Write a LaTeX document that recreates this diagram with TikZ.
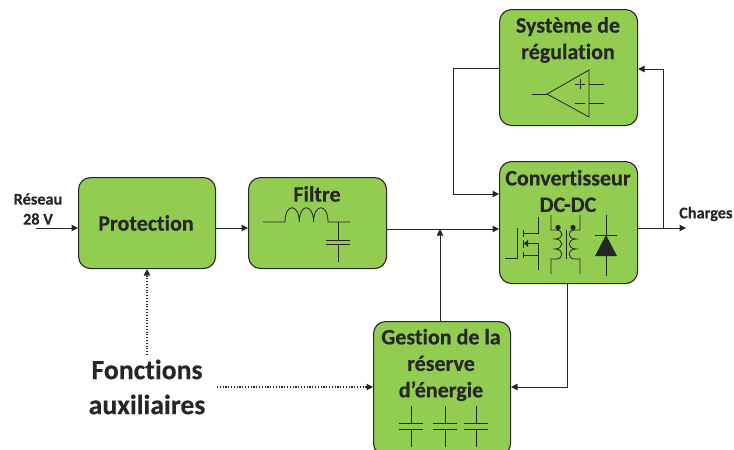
\documentclass[tikz,border=0pt]{standalone}
\usepackage{fontspec}
\setmainfont[Ligatures={NoCommon},BoldFeatures={FakeBold=0.3}]{Carlito}
\usetikzlibrary{arrows.meta}
\definecolor{boxgreen}{RGB}{146,204,80}
\definecolor{ink}{RGB}{38,38,38}
\tikzset{
  block/.style={draw=ink,line width=1.1pt,fill=boxgreen,rounded corners=12pt,inner sep=0pt,anchor=north west},
  lab/.style={font=\fontsize{22}{26.5}\selectfont\bfseries,text=ink,align=center,inner sep=0pt},
  smalllab/.style={font=\fontsize{16.3}{20}\selectfont\bfseries,text=ink,align=center,inner sep=0pt},
  biglab/.style={font=\fontsize{27.7}{35}\selectfont\bfseries,text=ink,align=center,inner sep=0pt},
  wire/.style={draw=ink,line width=1pt},
  flow/.style={wire,-{Triangle[length=6.5pt,width=6.5pt]}},
  aux/.style={flow,dash pattern=on 1.1pt off 1.7pt,line width=1.1pt},
  sym/.style={draw=ink,line width=0.8pt}
}
\begin{document}
\begin{tikzpicture}[x=1pt,y=-1pt]
\useasboundingbox (0,0) rectangle (734,450);
\begin{scope}
\clip (0,0) rectangle (734,450);
\node[block,minimum width=138pt,minimum height=116pt] (reg) at (499,9) {};
\node[block,minimum width=138pt,minimum height=122pt] (conv) at (499,161) {};
\node[block,minimum width=137pt,minimum height=91pt] (prot) at (78,177) {};
\node[block,minimum width=138pt,minimum height=91pt] (filt) at (248,177) {};
\node[block,minimum width=137pt,minimum height=134pt] (gest) at (373,321) {};
\end{scope}
% labels
\node[lab] at (568,40) {Système de\\régulation};
\node[lab] at (568,191) {Convertisseur\\DC-DC};
\node[lab] at (146,223) {Protection};
\node[lab] at (317,194) {Filtre};
\node[lab] at (441,365) {Gestion de la\\réserve\\d’énergie};
\node[smalllab] (res) at (38,209) {Réseau\\28 V};
\node[smalllab,anchor=west] (chg) at (679,214) {Charges};
\node[biglab] (aux) at (147,387) {Fonctions\\auxiliaires};
% connectors
\coordinate (in) at (36,228);
\coordinate (j1) at (440,229);
\coordinate (j2) at (663,228);
\coordinate (out) at (686,228);
\coordinate (k1) at (453,68);
\coordinate (k2) at (453,194);
\coordinate (k3) at (663,69);
\coordinate (k4) at (567,387);
\draw[flow] (in) -- (prot.west |- in);
\draw[flow] (prot.east |- in) -- (filt.west |- in);
\draw[flow] (filt.east |- j1) -- (conv.west |- j1);
\draw[flow] (gest.north -| j1) -- (j1);
\draw[flow] (conv.east |- j2) -- (out);
\draw[flow] (j2) -- (k3) -- (reg.east |- k3);
\draw[flow] (reg.west |- k1) -- (k1) -- (k2) -- (conv.west |- k2);
\draw[flow] (conv.south -| k4) -- (k4) -- (gest.east |- k4);
\draw[aux] (147,355) -- (prot.south -| 147,0);
\draw[aux] (217,387) -- (gest.west |- k4);
% op-amp
\draw[sym] (547,94) -- (589,70) -- (589,117) -- cycle;
\draw[sym] (532,94) -- (547,94);
\draw[sym] (589,84) -- (604,84) (589,103) -- (604,103);
\draw[sym] (575,84) -- (585,84) (580,79) -- (580,89) (575,103) -- (585,103);
% filter icon
\draw[sym] (263,222) -- (285,222)
  .. controls (285,203) and (299,203) .. (299.3,222)
  .. controls (299.3,203) and (313.3,203) .. (313.6,222)
  .. controls (313.6,203) and (328,203) .. (328,222)
  -- (350,222);
\draw[sym] (338,222) -- (338,240) (326,240) -- (350,240) (326,244) -- (350,244) (338,244) -- (338,262);
% capacitors
\foreach \cx in {411,445,476}{
  \draw[sym] (\cx,406) -- (\cx,423) (\cx-12,423) -- (\cx+12,423) (\cx-12,429) -- (\cx+12,429) (\cx,429) -- (\cx,447);
}
% MOSFET
\draw[sym] (505,258) -- (517,258) -- (517,228);
\draw[sym] (523,230) -- (523,237) (523,240) -- (523,248) (523,252) -- (523,258);
\draw[sym] (523,233) -- (538,233) -- (538,217);
\draw[sym] (523,243.5) -- (538,243.5) -- (538,270);
\draw[sym] (523,255) -- (538,255);
\fill[ink] (524,243.5) -- (528,240) -- (528,247) -- cycle;
% transformer
\draw[sym] (551,215) -- (551,230) -- (556,230)
  .. controls (564,230) and (564,239) .. (555,239)
  .. controls (564,239) and (564,249) .. (555,249)
  .. controls (564,249) and (564,259) .. (556,259)
  -- (551,259) -- (551,274);
\draw[sym] (580,215) -- (580,230) -- (575,230)
  .. controls (567,230) and (567,239) .. (576,239)
  .. controls (567,239) and (567,249) .. (576,249)
  .. controls (567,249) and (567,259) .. (575,259)
  -- (580,259) -- (580,274);
\draw[sym] (566,230) -- (566,259);
\fill[ink] (558,227.5) circle[radius=2.6] (573,227.5) circle[radius=2.6];
% diode
\draw[sym] (606,215) -- (606,276) (595,235) -- (617,235);
\fill[ink] (606,235) -- (595,256) -- (617,256) -- cycle;
\end{tikzpicture}
\end{document}
